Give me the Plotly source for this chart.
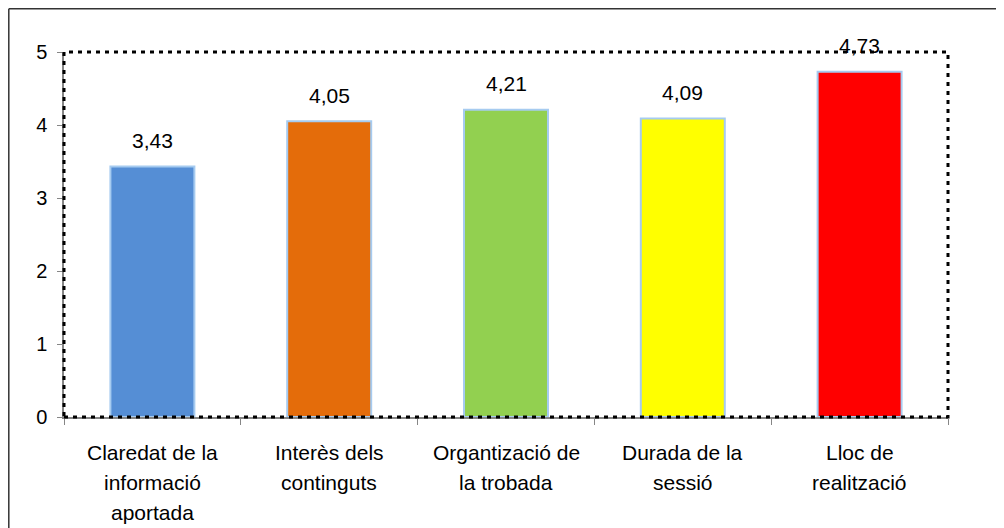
import plotly.graph_objects as go

categories = ["Claredat de la<br>informació<br>aportada", "Interès dels<br>continguts",
              "Organtizació de<br>la trobada", "Durada de la<br>sessió", "Lloc de<br>realització"]
values = [3.43, 4.05, 4.21, 4.09, 4.73]
colors = ["#558ED5", "#E46C0A", "#92D050", "#FFFF00", "#FF0000"]
y_ticks = [0, 1, 2, 3, 4, 5]

# page body adds an 8px offset; figure fills the rest of the window
OFF = 8
W, H = 1004 - OFF, 528 - OFF
ML, MT = 64 - OFF, 52 - OFF
MR = W - (948 - OFF)
MB = H - (417 - OFF)
pw, ph = W - ML - MR, H - MT - MB

FONT = "Liberation Sans, Arial, sans-serif"

fig = go.Figure()
fig.add_trace(go.Bar(
    x=list(range(len(categories))), y=values,
    marker=dict(color=colors, line=dict(color="#A6CBF0", width=2)),
    width=0.475, hoverinfo="skip",
))

annotations = []
for i, v in enumerate(values):
    annotations.append(dict(x=i, y=v, xref="x", yref="y", text=f"{v:.2f}".replace(".", ","),
                            showarrow=False, yanchor="middle", yshift=26,
                            font=dict(family=FONT, size=21, color="black")))
    for j, line in enumerate(categories[i].split("<br>")):
        annotations.append(dict(x=i, y=0, xref="x", yref="paper", text=line,
                                showarrow=False, yanchor="middle", yshift=-35 - 30 * j,
                                font=dict(family=FONT, size=21, color="black")))

def px_x(p):
    return (p - ML) / pw

def px_y(p):
    return (H - MB - p) / ph

shapes = [
    dict(type="rect", xref="paper", yref="paper", x0=0, x1=1, y0=0, y1=1,
         line=dict(color="black", width=3, dash="4px,5px"), layer="above"),
    dict(type="line", xref="paper", yref="paper", x0=px_x(0.8), x1=px_x(0.8), y0=px_y(0.8), y1=px_y(H + 10),
         line=dict(color="#333333", width=1.5)),
    dict(type="line", xref="paper", yref="paper", x0=px_x(0.8), x1=px_x(W + 10), y0=px_y(0.8), y1=px_y(0.8),
         line=dict(color="#333333", width=1.5)),
]

fig.update_layout(
    width=W, height=H,
    margin=dict(l=ML, r=MR, t=MT, b=MB),
    paper_bgcolor="white", plot_bgcolor="white",
    showlegend=False,
    font=dict(family=FONT, size=21, color="black"),
    xaxis=dict(type="linear", range=[-0.5, 4.5], tickvals=[-0.5, 0.5, 1.5, 2.5, 3.5, 4.5],
               showticklabels=False, ticks="outside", ticklen=6, tickcolor="#868686",
               showline=True, linecolor="#868686", linewidth=1.5, showgrid=False, zeroline=False),
    yaxis=dict(range=[0, 5], tickvals=y_ticks, ticks="outside", ticklen=5, tickcolor="#868686",
               showline=True, linecolor="#868686", linewidth=1.5, showgrid=False, zeroline=False,
               ticklabelstandoff=6,
               tickfont=dict(family=FONT, size=20, color="black")),
    annotations=annotations,
    shapes=shapes,
)

fig.write_html("out.html")
